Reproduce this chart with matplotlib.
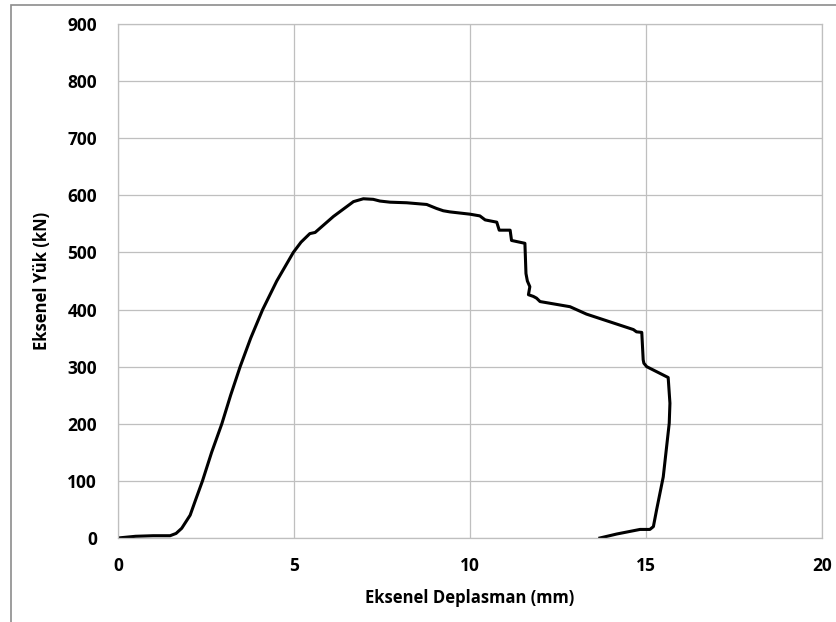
import matplotlib
matplotlib.use('Agg')
import matplotlib.pyplot as plt
from matplotlib.patches import Rectangle

plt.rcParams['font.family'] = ['Open Sans', 'DejaVu Sans']

# Eksenel deplasman (mm) ve eksenel yuk (kN)
deplasman = [0.0, 0.5, 1.0, 1.48, 1.65, 1.81, 2.05, 2.20, 2.40, 2.66, 2.95, 3.20,
             3.47, 3.77, 4.11, 4.51, 4.98, 5.20, 5.45, 5.60, 6.12, 6.69, 6.97, 7.25,
             7.44, 7.73, 8.20, 8.77, 9.05, 9.24, 9.43, 10.0, 10.28, 10.43, 10.76,
             10.83, 11.14, 11.18, 11.56, 11.59, 11.63, 11.70, 11.66, 11.80, 11.89,
             11.99, 12.65, 12.84, 13.31, 14.64, 14.73, 14.88, 14.92, 14.94, 15.02,
             15.63, 15.68, 15.66, 15.49, 15.30, 15.21, 15.11, 14.97, 14.83, 14.17,
             13.69]
yuk = [0, 3, 4, 4, 8, 17, 40, 66, 100, 150, 200, 250,
       300, 350, 400, 450, 500, 518, 533, 535, 563, 589, 594, 593,
       590, 588, 587, 584, 577, 573, 571, 567, 564, 557, 553,
       539, 539, 521, 516, 463, 450, 440, 426, 423, 420,
       414, 407, 405, 392, 365, 361, 360, 312, 306, 300,
       281, 236, 201, 107, 49, 20, 15, 15, 15, 7,
       0]

x_ticks = [0, 5, 10, 15, 20]
y_ticks = [0, 100, 200, 300, 400, 500, 600, 700, 800, 900]

fig = plt.figure(figsize=(8.37, 6.22), dpi=100)
ax = fig.add_axes([118 / 837, 1 - 538 / 622, 704 / 837, 514 / 622])

ax.plot(deplasman, yuk, color='black', linewidth=2.2, solid_joinstyle='round')

ax.set_xlim(0, 20)
ax.set_ylim(0, 900)
ax.set_xticks(x_ticks)
ax.set_yticks(y_ticks)
ax.grid(True, color='#bfbfbf', linewidth=0.9)
ax.set_axisbelow(True)
for s in ax.spines.values():
    s.set_color('#bfbfbf')
    s.set_linewidth(0.9)
ax.tick_params(length=0, labelsize=12.5)
ax.tick_params(axis='y', pad=15)
ax.tick_params(axis='x', pad=14)
for lab in ax.get_xticklabels() + ax.get_yticklabels():
    lab.set_fontweight('bold')

ax.set_xlabel('Eksenel Deplasman (mm)', fontsize=12, fontweight='bold', labelpad=10)
ax.set_ylabel('Eksenel Yük (kN)', fontsize=12, fontweight='bold', labelpad=12)

# dis cerceve
fig.patches.append(Rectangle((11 / 837, -0.1), 1.2, 1.1 - 5 / 622,
                             transform=fig.transFigure, fill=False,
                             edgecolor='#8c8c8c', linewidth=1.2))

fig.savefig('out.png', dpi=100)
